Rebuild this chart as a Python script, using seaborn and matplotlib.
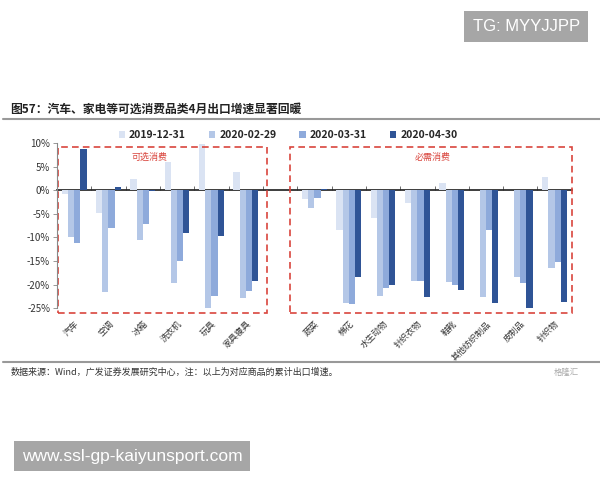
import numpy as np
import pandas as pd
import seaborn as sns
import matplotlib.pyplot as plt
from matplotlib.patches import Rectangle

# 数据
left_cats = ["汽车", "空调", "冰箱", "洗衣机", "玩具", "家具寝具"]
right_cats = ["蔬菜", "棉花", "水生动物", "针织衣物", "鞋靴", "其他纺织制品", "皮制品", "针织物"]
dates = ["2019-12-31", "2020-02-29", "2020-03-31", "2020-04-30"]

v_20191231 = [-0.8, -4.9, 2.3, 6.0, 9.9, 3.8, -1.8, -8.5, -5.9, -2.7, 1.6, 0.0, 0.0, 2.7]
v_20200229 = [-10.0, -21.6, -10.6, -19.7, -25.0, -22.8, -3.8, -24.0, -22.4, -19.3, -19.5, -22.6, -18.3, -16.5]
v_20200331 = [-11.2, -8.0, -7.1, -15.0, -22.5, -21.3, -1.7, -24.2, -20.8, -19.3, -20.0, -8.4, -19.6, -15.3]
v_20200430 = [8.8, 0.6, -0.1, -9.0, -9.8, -19.3, 0.3, -18.5, -20.0, -22.6, -21.2, -24.0, -24.9, -23.6]

palette = ["#dae3f3", "#b4c7e7", "#8eaadb", "#2f5496"]
red = "#d9453d"

cats = left_cats + right_cats
order = left_cats + [" "] + right_cats

rows = []
for d, vals in zip(dates, [v_20191231, v_20200229, v_20200331, v_20200430]):
    for c, v in zip(cats, vals):
        rows.append({"cat": c, "date": d, "value": v})
    rows.append({"cat": " ", "date": d, "value": np.nan})
df = pd.DataFrame(rows)

sns.set_theme(style="white")
plt.rcParams["font.family"] = ["Noto Sans CJK SC", "DejaVu Sans"]
plt.rcParams["axes.unicode_minus"] = False

fig = plt.figure(figsize=(6, 4.8), dpi=100)
ax = fig.add_axes([0.095, 0.358, 0.858, 0.344])

sns.barplot(data=df, x="cat", y="value", hue="date", order=order, hue_order=dates,
            palette=palette, width=0.72, gap=0, linewidth=0, saturation=1,
            errorbar=None, ax=ax, legend=True)

ax.set_xlim(-0.5, len(order) - 0.5)
ax.set_ylim(-25, 10)
ax.set_yticks(np.arange(-25, 11, 5))
ax.set_yticklabels([f"{t}%" for t in range(-25, 11, 5)], fontsize=7, color="#333333")
ax.set_xlabel("")
ax.set_ylabel("")

# 横轴标签
ax.set_xticks(range(len(order)))
ax.set_xticklabels(order, rotation=45, ha="right", rotation_mode="anchor", fontsize=6.2, color="#333333")
ax.tick_params(axis="x", length=0, pad=8)
ax.tick_params(axis="y", length=3, width=0.6, color="#888888", left=True, pad=2)

for s in ["top", "right", "bottom"]:
    ax.spines[s].set_visible(False)
ax.spines["left"].set_color("#888888")
ax.spines["left"].set_linewidth(0.8)

# 零轴
zero_ax = ax.secondary_xaxis(25 / 35)
zero_ax.set_xticks(np.arange(0.5, len(order) - 1, 1))
zero_ax.set_xticklabels([])
zero_ax.tick_params(length=3, width=0.6, color="#555555", direction="out")
zero_ax.spines["bottom"].set_color("#555555")
zero_ax.spines["bottom"].set_linewidth(0.8)

# 虚线框
ax.add_patch(Rectangle((-0.47, -26.1), 6.1, 35.2, fill=False, ls=(0, (4, 2.5)), lw=1.2,
                       edgecolor=red, clip_on=False))
ax.add_patch(Rectangle((6.3, -26.1), 8.2, 35.2, fill=False, ls=(0, (4, 2.5)), lw=1.2,
                       edgecolor=red, clip_on=False))
ax.text(2.2, 7.0, "可选消费", color=red, fontsize=6.5, ha="center", va="center")
ax.text(10.45, 7.0, "必需消费", color=red, fontsize=6.5, ha="center", va="center")

# 图例
h, l = ax.get_legend_handles_labels()
ax.legend(h, l, loc="center", bbox_to_anchor=(0.48, 0.719), bbox_transform=fig.transFigure,
          ncol=4, frameon=False, handlelength=0.6, handleheight=0.6,
          handletextpad=0.4, columnspacing=2.2, prop={"weight": "bold", "size": 7.5})

# 标题与注释
fig.text(0.017, 0.773, "图57：汽车、家电等可选消费品类4月出口增速显著回暖", fontsize=8.5,
         fontweight="bold", color="#222222", ha="left", va="center")
fig.add_artist(plt.Line2D([0.005, 1.0], [0.752, 0.752], color="#999999", lw=1.5))
fig.add_artist(plt.Line2D([0.005, 1.0], [0.246, 0.246], color="#999999", lw=1.5))
fig.text(0.017, 0.225, "数据来源：Wind，广发证券发展研究中心，注：以上为对应商品的累计出口增速。",
         fontsize=6.5, color="#333333", ha="left", va="center")
fig.text(0.965, 0.225, "格隆汇", fontsize=6, color="#aaaaaa", ha="right", va="center")

# 水印
fig.text(0.877, 0.945, "TG: MYYJJPP", fontsize=12, color="white", ha="center", va="center",
         family="Liberation Sans",
         bbox=dict(boxstyle="square,pad=0.5", fc="#a6a6a6", ec="none"))
fig.text(0.22, 0.05, "www.ssl-gp-kaiyunsport.com", fontsize=12.5, color="white", ha="center",
         va="center", family="Liberation Sans",
         bbox=dict(boxstyle="square,pad=0.45", fc="#a6a6a6", ec="none"))

plt.savefig("out.png", dpi=100)
